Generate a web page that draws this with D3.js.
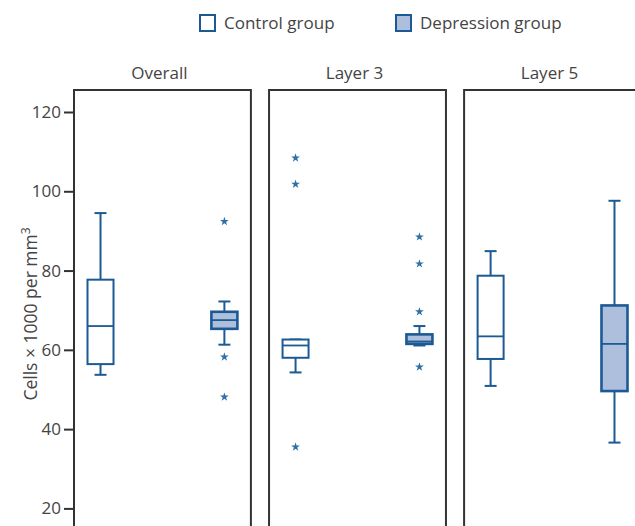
<!DOCTYPE html>
<html>
<head>
<meta charset="utf-8">
<script src="https://cdn.jsdelivr.net/npm/d3@7"></script>
<style>
  html, body { margin: 0; padding: 0; background: #fff; overflow: hidden; }
  text { font-family: "Open Sans", "Noto Sans", sans-serif; }
</style>
</head>
<body>
<svg id="chart" width="635" height="526"></svg>
<script>
// ---- data ----
const panels = ["Overall", "Layer 3", "Layer 5"];
const groups = ["Control group", "Depression group"];
const yTicks = [20, 40, 60, 80, 100, 120];
// [whiskerLow, Q1, median, Q3, whiskerHigh]
const controlStats = [
  [53.7, 56.4, 66.0, 77.7, 94.5],
  [54.3, 58.0, 61.1, 62.6, 62.6],
  [50.9, 57.7, 63.4, 78.7, 84.9]
];
const depressionStats = [
  [61.3, 65.3, 67.5, 69.6, 72.2],
  [61.1, 61.5, 62.1, 63.9, 66.0],
  [36.6, 49.6, 61.5, 71.2, 97.6]
];
const controlOutliers = [[], [108.4, 101.8, 35.5], []];
const depressionOutliers = [[92.4, 58.2, 48.1], [88.5, 81.7, 69.6, 55.7], []];

// ---- styles ----
const blue = "#1b5a94";
const fillDep = "#adbfdc";
const frameColor = "#333";
const textColor = "#444";

const svg = d3.select("#chart");

const y = d3.scaleLinear().domain([20, 120]).range([508.4, 112]);

const panelX = d3.scaleBand().domain(panels).range([74, 641]).paddingInner(0.093).paddingOuter(0);
const groupX = d3.scalePoint().domain(groups).range([0, panelX.bandwidth()]).padding(0.214);
const boxW = 26;
const capW = 12;
const frameTop = 90, frameBottom = 560;

// legend
const legend = svg.append("g");
const legX = [200, 396];
groups.forEach((g, i) => {
  legend.append("rect")
    .attr("x", legX[i]).attr("y", 15).attr("width", 15).attr("height", 16)
    .attr("fill", i === 0 ? "#fff" : fillDep)
    .attr("stroke", blue).attr("stroke-width", 2);
  legend.append("text")
    .attr("x", legX[i] + 24).attr("y", 29)
    .attr("font-size", 17).attr("fill", textColor)
    .text(g);
});

// y axis (ticks at left of first frame)
const yAxis = d3.axisLeft(y).tickValues(yTicks).tickSize(10).tickPadding(3);
const ax = svg.append("g").attr("transform", `translate(${panelX(panels[0])},0)`).call(yAxis);
ax.select(".domain").remove();
ax.selectAll(".tick line").attr("stroke", frameColor).attr("stroke-width", 2);
ax.selectAll(".tick text").attr("font-size", 17).attr("fill", textColor)
  .attr("font-family", "'Open Sans', sans-serif");

// y label
const yl = svg.append("text")
  .attr("transform", "translate(37,314) rotate(-90)")
  .attr("text-anchor", "middle")
  .attr("font-size", 17.5).attr("fill", textColor);
yl.append("tspan").text("Cells \u00d7 1000 per mm");
yl.append("tspan").attr("font-size", 12).attr("dy", -7).text("3");

const allStats = [controlStats, depressionStats];
const allOut = [controlOutliers, depressionOutliers];

panels.forEach((p, pi) => {
  const px = panelX(p);
  const g = svg.append("g").attr("transform", `translate(${px},0)`);
  // frame
  g.append("rect")
    .attr("x", 0).attr("y", frameTop)
    .attr("width", panelX.bandwidth()).attr("height", frameBottom - frameTop)
    .attr("fill", "none").attr("stroke", frameColor).attr("stroke-width", 2);
  // title
  svg.append("text")
    .attr("x", px + panelX.bandwidth() / 2 - 3).attr("y", 79)
    .attr("text-anchor", "middle").attr("font-size", 17).attr("fill", textColor)
    .text(p);

  groups.forEach((grp, gi) => {
    const s = allStats[gi][pi];
    const cx = groupX(grp);
    const bg = g.append("g");
    // whiskers
    bg.append("line").attr("x1", cx).attr("x2", cx).attr("y1", y(s[0])).attr("y2", y(s[1]))
      .attr("stroke", blue).attr("stroke-width", 2);
    bg.append("line").attr("x1", cx).attr("x2", cx).attr("y1", y(s[3])).attr("y2", y(s[4]))
      .attr("stroke", blue).attr("stroke-width", 2);
    [s[0], s[4]].forEach(v => {
      bg.append("line").attr("x1", cx - capW / 2).attr("x2", cx + capW / 2)
        .attr("y1", y(v)).attr("y2", y(v))
        .attr("stroke", blue).attr("stroke-width", 2);
    });
    // box
    bg.append("rect")
      .attr("x", cx - boxW / 2).attr("y", y(s[3]))
      .attr("width", boxW).attr("height", y(s[1]) - y(s[3]))
      .attr("fill", gi === 0 ? "#fff" : fillDep)
      .attr("stroke", blue).attr("stroke-width", gi === 0 ? 2 : 2.6);
    bg.append("line").attr("x1", cx - boxW / 2).attr("x2", cx + boxW / 2)
      .attr("y1", y(s[2])).attr("y2", y(s[2]))
      .attr("stroke", blue).attr("stroke-width", 1.8);
    // outliers
    const star = d3.symbol().type(d3.symbolStar).size(24);
    bg.selectAll("path.out").data(allOut[gi][pi]).join("path")
      .attr("class", "out")
      .attr("d", star)
      .attr("transform", d => `translate(${cx},${y(d)})`)
      .attr("fill", "#2e6fa8");
  });
});
</script>
</body>
</html>
